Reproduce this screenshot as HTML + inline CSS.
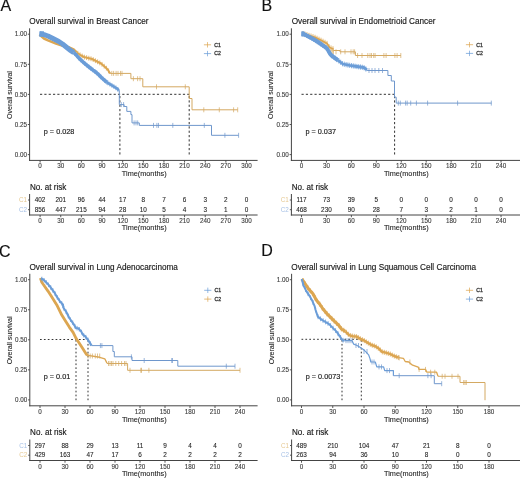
<!DOCTYPE html>
<html><head><meta charset="utf-8"><style>
html,body{margin:0;padding:0;background:#fff;}
svg{display:block;font-family:"Liberation Sans", sans-serif;filter:blur(0.4px);}
.hv{stroke:#1a1a1a;stroke-width:0.15px;}
.lt{stroke:#333;stroke-width:0.1px;}
</style></head><body>
<svg width="520" height="478" viewBox="0 0 520 478">
<rect width="520" height="478" fill="#fff"/>
<text x="0.50" y="10.90" font-size="16" fill="#111" stroke="#111" stroke-width="0.15">A</text>
<text x="29.30" y="23.90" font-size="8.2" fill="#1a1a1a" class="hv">Overall survival in Breast Cancer</text>
<line x1="29.60" y1="28.30" x2="29.60" y2="160.90" stroke="#444444" stroke-width="1" />
<line x1="29.10" y1="160.40" x2="257.60" y2="160.40" stroke="#444444" stroke-width="1" />
<line x1="27.80" y1="154.60" x2="29.60" y2="154.60" stroke="#444444" stroke-width="0.9" />
<text x="27.00" y="156.81" font-size="6.3" text-anchor="end" fill="#3a3a3a" class="lt">0.00</text>
<line x1="27.80" y1="124.50" x2="29.60" y2="124.50" stroke="#444444" stroke-width="0.9" />
<text x="27.00" y="126.70" font-size="6.3" text-anchor="end" fill="#3a3a3a" class="lt">0.25</text>
<line x1="27.80" y1="94.40" x2="29.60" y2="94.40" stroke="#444444" stroke-width="0.9" />
<text x="27.00" y="96.61" font-size="6.3" text-anchor="end" fill="#3a3a3a" class="lt">0.50</text>
<line x1="27.80" y1="64.30" x2="29.60" y2="64.30" stroke="#444444" stroke-width="0.9" />
<text x="27.00" y="66.50" font-size="6.3" text-anchor="end" fill="#3a3a3a" class="lt">0.75</text>
<line x1="27.80" y1="34.20" x2="29.60" y2="34.20" stroke="#444444" stroke-width="0.9" />
<text x="27.00" y="36.41" font-size="6.3" text-anchor="end" fill="#3a3a3a" class="lt">1.00</text>
<line x1="40.10" y1="160.40" x2="40.10" y2="162.60" stroke="#444444" stroke-width="0.9" />
<text x="40.10" y="168.41" font-size="6.3" text-anchor="middle" fill="#3a3a3a" class="lt">0</text>
<line x1="60.74" y1="160.40" x2="60.74" y2="162.60" stroke="#444444" stroke-width="0.9" />
<text x="60.74" y="168.41" font-size="6.3" text-anchor="middle" fill="#3a3a3a" class="lt">30</text>
<line x1="81.38" y1="160.40" x2="81.38" y2="162.60" stroke="#444444" stroke-width="0.9" />
<text x="81.38" y="168.41" font-size="6.3" text-anchor="middle" fill="#3a3a3a" class="lt">60</text>
<line x1="102.02" y1="160.40" x2="102.02" y2="162.60" stroke="#444444" stroke-width="0.9" />
<text x="102.02" y="168.41" font-size="6.3" text-anchor="middle" fill="#3a3a3a" class="lt">90</text>
<line x1="122.66" y1="160.40" x2="122.66" y2="162.60" stroke="#444444" stroke-width="0.9" />
<text x="122.66" y="168.41" font-size="6.3" text-anchor="middle" fill="#3a3a3a" class="lt">120</text>
<line x1="143.30" y1="160.40" x2="143.30" y2="162.60" stroke="#444444" stroke-width="0.9" />
<text x="143.30" y="168.41" font-size="6.3" text-anchor="middle" fill="#3a3a3a" class="lt">150</text>
<line x1="163.94" y1="160.40" x2="163.94" y2="162.60" stroke="#444444" stroke-width="0.9" />
<text x="163.94" y="168.41" font-size="6.3" text-anchor="middle" fill="#3a3a3a" class="lt">180</text>
<line x1="184.58" y1="160.40" x2="184.58" y2="162.60" stroke="#444444" stroke-width="0.9" />
<text x="184.58" y="168.41" font-size="6.3" text-anchor="middle" fill="#3a3a3a" class="lt">210</text>
<line x1="205.22" y1="160.40" x2="205.22" y2="162.60" stroke="#444444" stroke-width="0.9" />
<text x="205.22" y="168.41" font-size="6.3" text-anchor="middle" fill="#3a3a3a" class="lt">240</text>
<line x1="225.86" y1="160.40" x2="225.86" y2="162.60" stroke="#444444" stroke-width="0.9" />
<text x="225.86" y="168.41" font-size="6.3" text-anchor="middle" fill="#3a3a3a" class="lt">270</text>
<line x1="246.50" y1="160.40" x2="246.50" y2="162.60" stroke="#444444" stroke-width="0.9" />
<text x="246.50" y="168.41" font-size="6.3" text-anchor="middle" fill="#3a3a3a" class="lt">300</text>
<text x="144.20" y="176.36" font-size="7.3" text-anchor="middle" fill="#1a1a1a" class="lt">Time(months)</text>
<text x="0" y="0" font-size="7" text-anchor="middle" fill="#1a1a1a" class="lt" transform="translate(11.55,95.00) rotate(-90)">Overall survival</text>
<line x1="203.90" y1="44.80" x2="211.10" y2="44.80" stroke="#DCA651" stroke-width="0.75" />
<line x1="207.50" y1="42.10" x2="207.50" y2="47.50" stroke="#DCA651" stroke-width="0.7" />
<text x="214.30" y="46.62" font-size="5.2" text-anchor="start" fill="#444" stroke="#444" stroke-width="0.35">C1</text>
<line x1="203.90" y1="53.60" x2="211.10" y2="53.60" stroke="#6B9DD8" stroke-width="0.75" />
<line x1="207.50" y1="50.90" x2="207.50" y2="56.30" stroke="#6B9DD8" stroke-width="0.7" />
<text x="214.30" y="55.42" font-size="5.2" text-anchor="start" fill="#444" stroke="#444" stroke-width="0.35">C2</text>
<text x="0" y="0" font-size="7.3" fill="#1a1a1a" class="hv" transform="translate(43.80,133.96) scale(1,1.1)">p = 0.028</text>
<line x1="40.00" y1="94.30" x2="189.20" y2="94.30" stroke="#333" stroke-width="1" stroke-dasharray="2.2,2.13"/>
<line x1="119.90" y1="154.50" x2="119.90" y2="94.30" stroke="#333" stroke-width="1" stroke-dasharray="2.2,2.13"/>
<line x1="189.20" y1="154.50" x2="189.20" y2="94.30" stroke="#333" stroke-width="1" stroke-dasharray="2.2,2.13"/>
<polyline points="39.50,34.50 44.00,38.50 48.00,40.40 56.00,43.60 62.00,45.50 68.50,47.30 74.00,49.80 76.70,52.50" fill="none" stroke="#DCA651" stroke-width="2.6" stroke-linecap="butt" stroke-linejoin="round"/>
<polyline points="76.70,52.50 80.00,54.80 84.00,57.00 88.00,58.00 92.00,59.00 97.00,61.50 101.00,63.50 104.20,66.20 107.70,69.40 110.10,73.40" fill="none" stroke="#DCA651" stroke-width="2.0" stroke-linecap="butt" stroke-linejoin="round"/>
<line x1="77.80" y1="50.87" x2="77.80" y2="55.67" stroke="#DCA651" stroke-width="0.8" />
<line x1="80.00" y1="52.40" x2="80.00" y2="57.20" stroke="#DCA651" stroke-width="0.8" />
<line x1="82.20" y1="53.61" x2="82.20" y2="58.41" stroke="#DCA651" stroke-width="0.8" />
<line x1="84.40" y1="54.70" x2="84.40" y2="59.50" stroke="#DCA651" stroke-width="0.8" />
<line x1="86.60" y1="55.25" x2="86.60" y2="60.05" stroke="#DCA651" stroke-width="0.8" />
<line x1="88.80" y1="55.80" x2="88.80" y2="60.60" stroke="#DCA651" stroke-width="0.8" />
<line x1="91.00" y1="56.35" x2="91.00" y2="61.15" stroke="#DCA651" stroke-width="0.8" />
<line x1="93.20" y1="57.20" x2="93.20" y2="62.00" stroke="#DCA651" stroke-width="0.8" />
<line x1="95.40" y1="58.30" x2="95.40" y2="63.10" stroke="#DCA651" stroke-width="0.8" />
<line x1="97.60" y1="59.40" x2="97.60" y2="64.20" stroke="#DCA651" stroke-width="0.8" />
<line x1="99.80" y1="60.50" x2="99.80" y2="65.30" stroke="#DCA651" stroke-width="0.8" />
<line x1="102.00" y1="61.94" x2="102.00" y2="66.74" stroke="#DCA651" stroke-width="0.8" />
<line x1="104.20" y1="63.80" x2="104.20" y2="68.60" stroke="#DCA651" stroke-width="0.8" />
<line x1="106.40" y1="65.81" x2="106.40" y2="70.61" stroke="#DCA651" stroke-width="0.8" />
<line x1="108.60" y1="68.50" x2="108.60" y2="73.30" stroke="#DCA651" stroke-width="0.8" />
<polyline points="110.10,73.40 130.90,73.40 130.90,78.70 142.80,78.70 142.80,86.80 189.20,86.80 189.20,98.50 192.00,98.50 192.00,109.80 237.70,109.80 237.70,109.80" fill="none" stroke="#D4A962" stroke-width="1" />
<line x1="111.80" y1="70.90" x2="111.80" y2="75.90" stroke="#D4A962" stroke-width="0.7" />
<line x1="113.60" y1="70.90" x2="113.60" y2="75.90" stroke="#D4A962" stroke-width="0.7" />
<line x1="116.10" y1="70.90" x2="116.10" y2="75.90" stroke="#D4A962" stroke-width="0.7" />
<line x1="118.00" y1="70.90" x2="118.00" y2="75.90" stroke="#D4A962" stroke-width="0.7" />
<line x1="120.50" y1="70.90" x2="120.50" y2="75.90" stroke="#D4A962" stroke-width="0.7" />
<line x1="122.00" y1="70.90" x2="122.00" y2="75.90" stroke="#D4A962" stroke-width="0.7" />
<line x1="133.40" y1="76.20" x2="133.40" y2="81.20" stroke="#D4A962" stroke-width="0.7" />
<line x1="137.60" y1="76.20" x2="137.60" y2="81.20" stroke="#D4A962" stroke-width="0.7" />
<line x1="140.00" y1="76.20" x2="140.00" y2="81.20" stroke="#D4A962" stroke-width="0.7" />
<line x1="156.50" y1="84.30" x2="156.50" y2="89.30" stroke="#D4A962" stroke-width="0.7" />
<line x1="185.30" y1="84.30" x2="185.30" y2="89.30" stroke="#D4A962" stroke-width="0.7" />
<line x1="203.80" y1="107.30" x2="203.80" y2="112.30" stroke="#D4A962" stroke-width="0.7" />
<line x1="219.30" y1="107.30" x2="219.30" y2="112.30" stroke="#D4A962" stroke-width="0.7" />
<line x1="233.60" y1="107.30" x2="233.60" y2="112.30" stroke="#D4A962" stroke-width="0.7" />
<line x1="237.70" y1="107.30" x2="237.70" y2="112.30" stroke="#D4A962" stroke-width="0.7" />
<polyline points="39.60,33.80 44.00,34.60 48.00,36.00 53.00,38.50 58.80,41.50 62.50,44.00 66.80,47.50 70.00,50.20 73.80,52.60" fill="none" stroke="#6B9DD8" stroke-width="5.0" stroke-linecap="butt" stroke-linejoin="round"/>
<polyline points="73.80,52.60 76.70,55.60 79.40,58.60 82.20,61.20 84.90,63.60 87.60,65.80 90.30,68.00 93.00,70.10 96.00,72.30 98.50,74.50 101.40,77.50 106.90,82.30" fill="none" stroke="#6B9DD8" stroke-width="3.6" stroke-linecap="butt" stroke-linejoin="round"/>
<line x1="74.80" y1="51.23" x2="74.80" y2="56.03" stroke="#6B9DD8" stroke-width="0.8" />
<line x1="76.80" y1="53.31" x2="76.80" y2="58.11" stroke="#6B9DD8" stroke-width="0.8" />
<line x1="78.80" y1="55.53" x2="78.80" y2="60.33" stroke="#6B9DD8" stroke-width="0.8" />
<line x1="80.80" y1="57.50" x2="80.80" y2="62.30" stroke="#6B9DD8" stroke-width="0.8" />
<line x1="82.80" y1="59.33" x2="82.80" y2="64.13" stroke="#6B9DD8" stroke-width="0.8" />
<line x1="84.80" y1="61.11" x2="84.80" y2="65.91" stroke="#6B9DD8" stroke-width="0.8" />
<line x1="86.80" y1="62.75" x2="86.80" y2="67.55" stroke="#6B9DD8" stroke-width="0.8" />
<line x1="88.80" y1="64.38" x2="88.80" y2="69.18" stroke="#6B9DD8" stroke-width="0.8" />
<line x1="90.80" y1="65.99" x2="90.80" y2="70.79" stroke="#6B9DD8" stroke-width="0.8" />
<line x1="92.80" y1="67.54" x2="92.80" y2="72.34" stroke="#6B9DD8" stroke-width="0.8" />
<line x1="94.80" y1="69.02" x2="94.80" y2="73.82" stroke="#6B9DD8" stroke-width="0.8" />
<line x1="96.80" y1="70.60" x2="96.80" y2="75.40" stroke="#6B9DD8" stroke-width="0.8" />
<line x1="98.80" y1="72.41" x2="98.80" y2="77.21" stroke="#6B9DD8" stroke-width="0.8" />
<line x1="100.80" y1="74.48" x2="100.80" y2="79.28" stroke="#6B9DD8" stroke-width="0.8" />
<line x1="102.80" y1="76.32" x2="102.80" y2="81.12" stroke="#6B9DD8" stroke-width="0.8" />
<line x1="104.80" y1="78.07" x2="104.80" y2="82.87" stroke="#6B9DD8" stroke-width="0.8" />
<line x1="106.80" y1="79.81" x2="106.80" y2="84.61" stroke="#6B9DD8" stroke-width="0.8" />
<polyline points="106.90,82.30 112.30,85.60 116.70,88.30 118.90,90.30" fill="none" stroke="#6B9DD8" stroke-width="2.6" stroke-linecap="butt" stroke-linejoin="round"/>
<line x1="107.90" y1="80.51" x2="107.90" y2="85.31" stroke="#6B9DD8" stroke-width="0.8" />
<line x1="109.90" y1="81.73" x2="109.90" y2="86.53" stroke="#6B9DD8" stroke-width="0.8" />
<line x1="111.90" y1="82.96" x2="111.90" y2="87.76" stroke="#6B9DD8" stroke-width="0.8" />
<line x1="113.90" y1="84.18" x2="113.90" y2="88.98" stroke="#6B9DD8" stroke-width="0.8" />
<line x1="115.90" y1="85.41" x2="115.90" y2="90.21" stroke="#6B9DD8" stroke-width="0.8" />
<line x1="117.90" y1="86.99" x2="117.90" y2="91.79" stroke="#6B9DD8" stroke-width="0.8" />
<rect x="39.4" y="31.3" width="4.6" height="5.4" fill="#6B9DD8"/>
<polyline points="118.90,90.30 119.30,90.30 119.30,104.60 124.10,104.60 124.10,106.50 126.80,106.50 126.80,111.40 130.90,111.40 130.90,114.60 132.00,114.60 132.00,122.90 139.30,122.90 139.30,125.40 211.50,125.40 211.50,135.30 238.60,135.30 238.60,135.30" fill="none" stroke="#6F97CC" stroke-width="1" />
<line x1="121.30" y1="102.10" x2="121.30" y2="107.10" stroke="#6F97CC" stroke-width="0.7" />
<line x1="123.60" y1="102.10" x2="123.60" y2="107.10" stroke="#6F97CC" stroke-width="0.7" />
<line x1="134.10" y1="120.40" x2="134.10" y2="125.40" stroke="#6F97CC" stroke-width="0.7" />
<line x1="136.00" y1="120.40" x2="136.00" y2="125.40" stroke="#6F97CC" stroke-width="0.7" />
<line x1="137.70" y1="120.40" x2="137.70" y2="125.40" stroke="#6F97CC" stroke-width="0.7" />
<line x1="153.50" y1="122.90" x2="153.50" y2="127.90" stroke="#6F97CC" stroke-width="0.7" />
<line x1="156.90" y1="122.90" x2="156.90" y2="127.90" stroke="#6F97CC" stroke-width="0.7" />
<line x1="158.50" y1="122.90" x2="158.50" y2="127.90" stroke="#6F97CC" stroke-width="0.7" />
<line x1="172.80" y1="122.90" x2="172.80" y2="127.90" stroke="#6F97CC" stroke-width="0.7" />
<line x1="204.30" y1="122.90" x2="204.30" y2="127.90" stroke="#6F97CC" stroke-width="0.7" />
<line x1="224.90" y1="132.80" x2="224.90" y2="137.80" stroke="#6F97CC" stroke-width="0.7" />
<line x1="238.60" y1="132.80" x2="238.60" y2="137.80" stroke="#6F97CC" stroke-width="0.7" />
<text x="0" y="0" font-size="8.1" fill="#1a1a1a" class="hv" transform="translate(29.90,189.53) scale(1,1.15)">No. at risk</text>
<line x1="29.60" y1="194.00" x2="29.60" y2="215.50" stroke="#444444" stroke-width="1" />
<line x1="29.10" y1="215.00" x2="257.60" y2="215.00" stroke="#444444" stroke-width="1" />
<line x1="28.00" y1="200.00" x2="29.60" y2="200.00" stroke="#444444" stroke-width="0.9" />
<text x="27.00" y="202.21" font-size="6.3" text-anchor="end" fill="#E6C993" >C1</text>
<text x="40.10" y="202.24" font-size="6.4" text-anchor="middle" fill="#1a1a1a" class="lt">402</text>
<text x="60.74" y="202.24" font-size="6.4" text-anchor="middle" fill="#1a1a1a" class="lt">201</text>
<text x="81.38" y="202.24" font-size="6.4" text-anchor="middle" fill="#1a1a1a" class="lt">96</text>
<text x="102.02" y="202.24" font-size="6.4" text-anchor="middle" fill="#1a1a1a" class="lt">44</text>
<text x="122.66" y="202.24" font-size="6.4" text-anchor="middle" fill="#1a1a1a" class="lt">17</text>
<text x="143.30" y="202.24" font-size="6.4" text-anchor="middle" fill="#1a1a1a" class="lt">8</text>
<text x="163.94" y="202.24" font-size="6.4" text-anchor="middle" fill="#1a1a1a" class="lt">7</text>
<text x="184.58" y="202.24" font-size="6.4" text-anchor="middle" fill="#1a1a1a" class="lt">6</text>
<text x="205.22" y="202.24" font-size="6.4" text-anchor="middle" fill="#1a1a1a" class="lt">3</text>
<text x="225.86" y="202.24" font-size="6.4" text-anchor="middle" fill="#1a1a1a" class="lt">2</text>
<text x="246.50" y="202.24" font-size="6.4" text-anchor="middle" fill="#1a1a1a" class="lt">0</text>
<line x1="28.00" y1="209.70" x2="29.60" y2="209.70" stroke="#444444" stroke-width="0.9" />
<text x="27.00" y="211.91" font-size="6.3" text-anchor="end" fill="#A8C2E6" >C2</text>
<text x="40.10" y="211.94" font-size="6.4" text-anchor="middle" fill="#1a1a1a" class="lt">856</text>
<text x="60.74" y="211.94" font-size="6.4" text-anchor="middle" fill="#1a1a1a" class="lt">447</text>
<text x="81.38" y="211.94" font-size="6.4" text-anchor="middle" fill="#1a1a1a" class="lt">215</text>
<text x="102.02" y="211.94" font-size="6.4" text-anchor="middle" fill="#1a1a1a" class="lt">94</text>
<text x="122.66" y="211.94" font-size="6.4" text-anchor="middle" fill="#1a1a1a" class="lt">28</text>
<text x="143.30" y="211.94" font-size="6.4" text-anchor="middle" fill="#1a1a1a" class="lt">10</text>
<text x="163.94" y="211.94" font-size="6.4" text-anchor="middle" fill="#1a1a1a" class="lt">5</text>
<text x="184.58" y="211.94" font-size="6.4" text-anchor="middle" fill="#1a1a1a" class="lt">4</text>
<text x="205.22" y="211.94" font-size="6.4" text-anchor="middle" fill="#1a1a1a" class="lt">3</text>
<text x="225.86" y="211.94" font-size="6.4" text-anchor="middle" fill="#1a1a1a" class="lt">1</text>
<text x="246.50" y="211.94" font-size="6.4" text-anchor="middle" fill="#1a1a1a" class="lt">0</text>
<line x1="40.10" y1="215.00" x2="40.10" y2="217.20" stroke="#444444" stroke-width="0.9" />
<text x="40.10" y="223.01" font-size="6.3" text-anchor="middle" fill="#3a3a3a" class="lt">0</text>
<line x1="60.74" y1="215.00" x2="60.74" y2="217.20" stroke="#444444" stroke-width="0.9" />
<text x="60.74" y="223.01" font-size="6.3" text-anchor="middle" fill="#3a3a3a" class="lt">30</text>
<line x1="81.38" y1="215.00" x2="81.38" y2="217.20" stroke="#444444" stroke-width="0.9" />
<text x="81.38" y="223.01" font-size="6.3" text-anchor="middle" fill="#3a3a3a" class="lt">60</text>
<line x1="102.02" y1="215.00" x2="102.02" y2="217.20" stroke="#444444" stroke-width="0.9" />
<text x="102.02" y="223.01" font-size="6.3" text-anchor="middle" fill="#3a3a3a" class="lt">90</text>
<line x1="122.66" y1="215.00" x2="122.66" y2="217.20" stroke="#444444" stroke-width="0.9" />
<text x="122.66" y="223.01" font-size="6.3" text-anchor="middle" fill="#3a3a3a" class="lt">120</text>
<line x1="143.30" y1="215.00" x2="143.30" y2="217.20" stroke="#444444" stroke-width="0.9" />
<text x="143.30" y="223.01" font-size="6.3" text-anchor="middle" fill="#3a3a3a" class="lt">150</text>
<line x1="163.94" y1="215.00" x2="163.94" y2="217.20" stroke="#444444" stroke-width="0.9" />
<text x="163.94" y="223.01" font-size="6.3" text-anchor="middle" fill="#3a3a3a" class="lt">180</text>
<line x1="184.58" y1="215.00" x2="184.58" y2="217.20" stroke="#444444" stroke-width="0.9" />
<text x="184.58" y="223.01" font-size="6.3" text-anchor="middle" fill="#3a3a3a" class="lt">210</text>
<line x1="205.22" y1="215.00" x2="205.22" y2="217.20" stroke="#444444" stroke-width="0.9" />
<text x="205.22" y="223.01" font-size="6.3" text-anchor="middle" fill="#3a3a3a" class="lt">240</text>
<line x1="225.86" y1="215.00" x2="225.86" y2="217.20" stroke="#444444" stroke-width="0.9" />
<text x="225.86" y="223.01" font-size="6.3" text-anchor="middle" fill="#3a3a3a" class="lt">270</text>
<line x1="246.50" y1="215.00" x2="246.50" y2="217.20" stroke="#444444" stroke-width="0.9" />
<text x="246.50" y="223.01" font-size="6.3" text-anchor="middle" fill="#3a3a3a" class="lt">300</text>
<text x="144.20" y="230.16" font-size="7.3" text-anchor="middle" fill="#1a1a1a" class="lt">Time(months)</text>
<text x="261.60" y="10.90" font-size="16" fill="#111" stroke="#111" stroke-width="0.15">B</text>
<text x="291.70" y="23.90" font-size="8.2" fill="#1a1a1a" class="hv">Overall survival in Endometrioid Cancer</text>
<line x1="291.40" y1="28.30" x2="291.40" y2="160.90" stroke="#444444" stroke-width="1" />
<line x1="290.90" y1="160.40" x2="520.00" y2="160.40" stroke="#444444" stroke-width="1" />
<line x1="289.60" y1="154.60" x2="291.40" y2="154.60" stroke="#444444" stroke-width="0.9" />
<text x="288.80" y="156.81" font-size="6.3" text-anchor="end" fill="#3a3a3a" class="lt">0.00</text>
<line x1="289.60" y1="124.50" x2="291.40" y2="124.50" stroke="#444444" stroke-width="0.9" />
<text x="288.80" y="126.70" font-size="6.3" text-anchor="end" fill="#3a3a3a" class="lt">0.25</text>
<line x1="289.60" y1="94.40" x2="291.40" y2="94.40" stroke="#444444" stroke-width="0.9" />
<text x="288.80" y="96.61" font-size="6.3" text-anchor="end" fill="#3a3a3a" class="lt">0.50</text>
<line x1="289.60" y1="64.30" x2="291.40" y2="64.30" stroke="#444444" stroke-width="0.9" />
<text x="288.80" y="66.50" font-size="6.3" text-anchor="end" fill="#3a3a3a" class="lt">0.75</text>
<line x1="289.60" y1="34.20" x2="291.40" y2="34.20" stroke="#444444" stroke-width="0.9" />
<text x="288.80" y="36.41" font-size="6.3" text-anchor="end" fill="#3a3a3a" class="lt">1.00</text>
<line x1="301.50" y1="160.40" x2="301.50" y2="162.60" stroke="#444444" stroke-width="0.9" />
<text x="301.50" y="168.41" font-size="6.3" text-anchor="middle" fill="#3a3a3a" class="lt">0</text>
<line x1="326.44" y1="160.40" x2="326.44" y2="162.60" stroke="#444444" stroke-width="0.9" />
<text x="326.44" y="168.41" font-size="6.3" text-anchor="middle" fill="#3a3a3a" class="lt">30</text>
<line x1="351.38" y1="160.40" x2="351.38" y2="162.60" stroke="#444444" stroke-width="0.9" />
<text x="351.38" y="168.41" font-size="6.3" text-anchor="middle" fill="#3a3a3a" class="lt">60</text>
<line x1="376.32" y1="160.40" x2="376.32" y2="162.60" stroke="#444444" stroke-width="0.9" />
<text x="376.32" y="168.41" font-size="6.3" text-anchor="middle" fill="#3a3a3a" class="lt">90</text>
<line x1="401.26" y1="160.40" x2="401.26" y2="162.60" stroke="#444444" stroke-width="0.9" />
<text x="401.26" y="168.41" font-size="6.3" text-anchor="middle" fill="#3a3a3a" class="lt">120</text>
<line x1="426.20" y1="160.40" x2="426.20" y2="162.60" stroke="#444444" stroke-width="0.9" />
<text x="426.20" y="168.41" font-size="6.3" text-anchor="middle" fill="#3a3a3a" class="lt">150</text>
<line x1="451.14" y1="160.40" x2="451.14" y2="162.60" stroke="#444444" stroke-width="0.9" />
<text x="451.14" y="168.41" font-size="6.3" text-anchor="middle" fill="#3a3a3a" class="lt">180</text>
<line x1="476.08" y1="160.40" x2="476.08" y2="162.60" stroke="#444444" stroke-width="0.9" />
<text x="476.08" y="168.41" font-size="6.3" text-anchor="middle" fill="#3a3a3a" class="lt">210</text>
<line x1="501.02" y1="160.40" x2="501.02" y2="162.60" stroke="#444444" stroke-width="0.9" />
<text x="501.02" y="168.41" font-size="6.3" text-anchor="middle" fill="#3a3a3a" class="lt">240</text>
<text x="406.30" y="176.36" font-size="7.3" text-anchor="middle" fill="#1a1a1a" class="lt">Time(months)</text>
<text x="0" y="0" font-size="7" text-anchor="middle" fill="#1a1a1a" class="lt" transform="translate(273.35,95.00) rotate(-90)">Overall survival</text>
<line x1="465.90" y1="44.70" x2="473.10" y2="44.70" stroke="#DCA651" stroke-width="0.75" />
<line x1="469.50" y1="42.00" x2="469.50" y2="47.40" stroke="#DCA651" stroke-width="0.7" />
<text x="476.30" y="46.52" font-size="5.2" text-anchor="start" fill="#444" stroke="#444" stroke-width="0.35">C1</text>
<line x1="465.90" y1="53.40" x2="473.10" y2="53.40" stroke="#6B9DD8" stroke-width="0.75" />
<line x1="469.50" y1="50.70" x2="469.50" y2="56.10" stroke="#6B9DD8" stroke-width="0.7" />
<text x="476.30" y="55.22" font-size="5.2" text-anchor="start" fill="#444" stroke="#444" stroke-width="0.35">C2</text>
<text x="0" y="0" font-size="7.3" fill="#1a1a1a" class="hv" transform="translate(305.40,133.96) scale(1,1.1)">p = 0.037</text>
<line x1="301.50" y1="94.30" x2="394.60" y2="94.30" stroke="#333" stroke-width="1" stroke-dasharray="2.2,2.13"/>
<line x1="394.60" y1="154.50" x2="394.60" y2="94.30" stroke="#333" stroke-width="1" stroke-dasharray="2.2,2.13"/>
<polyline points="302.00,33.40 307.00,34.80 315.00,37.40 321.00,40.30 327.20,43.60 329.50,47.50 333.50,49.00" fill="none" stroke="#DCA651" stroke-width="1.8" stroke-linecap="butt" stroke-linejoin="round"/>
<line x1="303.00" y1="31.08" x2="303.00" y2="36.28" stroke="#DCA651" stroke-width="0.8" />
<line x1="305.00" y1="31.64" x2="305.00" y2="36.84" stroke="#DCA651" stroke-width="0.8" />
<line x1="307.00" y1="32.20" x2="307.00" y2="37.40" stroke="#DCA651" stroke-width="0.8" />
<line x1="309.00" y1="32.85" x2="309.00" y2="38.05" stroke="#DCA651" stroke-width="0.8" />
<line x1="311.00" y1="33.50" x2="311.00" y2="38.70" stroke="#DCA651" stroke-width="0.8" />
<line x1="313.00" y1="34.15" x2="313.00" y2="39.35" stroke="#DCA651" stroke-width="0.8" />
<line x1="315.00" y1="34.80" x2="315.00" y2="40.00" stroke="#DCA651" stroke-width="0.8" />
<line x1="317.00" y1="35.77" x2="317.00" y2="40.97" stroke="#DCA651" stroke-width="0.8" />
<line x1="319.00" y1="36.73" x2="319.00" y2="41.93" stroke="#DCA651" stroke-width="0.8" />
<line x1="321.00" y1="37.70" x2="321.00" y2="42.90" stroke="#DCA651" stroke-width="0.8" />
<line x1="323.00" y1="38.76" x2="323.00" y2="43.96" stroke="#DCA651" stroke-width="0.8" />
<line x1="325.00" y1="39.83" x2="325.00" y2="45.03" stroke="#DCA651" stroke-width="0.8" />
<line x1="327.00" y1="40.89" x2="327.00" y2="46.09" stroke="#DCA651" stroke-width="0.8" />
<line x1="329.00" y1="44.05" x2="329.00" y2="49.25" stroke="#DCA651" stroke-width="0.8" />
<line x1="331.00" y1="45.46" x2="331.00" y2="50.66" stroke="#DCA651" stroke-width="0.8" />
<line x1="333.00" y1="46.21" x2="333.00" y2="51.41" stroke="#DCA651" stroke-width="0.8" />
<polyline points="333.50,50.50 340.00,50.50 340.00,51.80 355.40,51.80 355.40,55.50 400.80,55.50 400.80,55.50" fill="none" stroke="#D4A962" stroke-width="1" />
<line x1="331.00" y1="49.30" x2="331.00" y2="54.30" stroke="#D4A962" stroke-width="0.7" />
<line x1="332.20" y1="49.30" x2="332.20" y2="54.30" stroke="#D4A962" stroke-width="0.7" />
<line x1="333.40" y1="49.30" x2="333.40" y2="54.30" stroke="#D4A962" stroke-width="0.7" />
<line x1="336.00" y1="49.30" x2="336.00" y2="54.30" stroke="#D4A962" stroke-width="0.7" />
<line x1="340.70" y1="49.30" x2="340.70" y2="54.30" stroke="#D4A962" stroke-width="0.7" />
<line x1="345.00" y1="49.30" x2="345.00" y2="54.30" stroke="#D4A962" stroke-width="0.7" />
<line x1="351.00" y1="49.30" x2="351.00" y2="54.30" stroke="#D4A962" stroke-width="0.7" />
<line x1="353.20" y1="49.30" x2="353.20" y2="54.30" stroke="#D4A962" stroke-width="0.7" />
<line x1="354.60" y1="49.30" x2="354.60" y2="54.30" stroke="#D4A962" stroke-width="0.7" />
<line x1="357.60" y1="53.00" x2="357.60" y2="58.00" stroke="#D4A962" stroke-width="0.7" />
<line x1="362.00" y1="53.00" x2="362.00" y2="58.00" stroke="#D4A962" stroke-width="0.7" />
<line x1="367.80" y1="53.00" x2="367.80" y2="58.00" stroke="#D4A962" stroke-width="0.7" />
<line x1="370.00" y1="53.00" x2="370.00" y2="58.00" stroke="#D4A962" stroke-width="0.7" />
<line x1="371.50" y1="53.00" x2="371.50" y2="58.00" stroke="#D4A962" stroke-width="0.7" />
<line x1="373.70" y1="53.00" x2="373.70" y2="58.00" stroke="#D4A962" stroke-width="0.7" />
<line x1="375.10" y1="53.00" x2="375.10" y2="58.00" stroke="#D4A962" stroke-width="0.7" />
<line x1="383.90" y1="53.00" x2="383.90" y2="58.00" stroke="#D4A962" stroke-width="0.7" />
<line x1="386.10" y1="53.00" x2="386.10" y2="58.00" stroke="#D4A962" stroke-width="0.7" />
<line x1="394.90" y1="53.00" x2="394.90" y2="58.00" stroke="#D4A962" stroke-width="0.7" />
<line x1="397.10" y1="53.00" x2="397.10" y2="58.00" stroke="#D4A962" stroke-width="0.7" />
<line x1="400.80" y1="53.00" x2="400.80" y2="58.00" stroke="#D4A962" stroke-width="0.7" />
<polyline points="302.00,33.60 304.10,34.20 308.00,36.20 312.20,38.50 316.00,40.80 320.20,43.50 323.50,45.80 326.70,48.20 328.50,51.00 329.90,53.60 332.00,56.00 334.80,57.90 338.00,60.30" fill="none" stroke="#6B9DD8" stroke-width="4.0" stroke-linecap="butt" stroke-linejoin="round"/>
<line x1="302.90" y1="31.26" x2="302.90" y2="36.46" stroke="#6B9DD8" stroke-width="0.8" />
<line x1="304.70" y1="31.91" x2="304.70" y2="37.11" stroke="#6B9DD8" stroke-width="0.8" />
<line x1="306.50" y1="32.83" x2="306.50" y2="38.03" stroke="#6B9DD8" stroke-width="0.8" />
<line x1="308.30" y1="33.76" x2="308.30" y2="38.96" stroke="#6B9DD8" stroke-width="0.8" />
<line x1="310.10" y1="34.75" x2="310.10" y2="39.95" stroke="#6B9DD8" stroke-width="0.8" />
<line x1="311.90" y1="35.74" x2="311.90" y2="40.94" stroke="#6B9DD8" stroke-width="0.8" />
<line x1="313.70" y1="36.81" x2="313.70" y2="42.01" stroke="#6B9DD8" stroke-width="0.8" />
<line x1="315.50" y1="37.90" x2="315.50" y2="43.10" stroke="#6B9DD8" stroke-width="0.8" />
<line x1="317.30" y1="39.04" x2="317.30" y2="44.24" stroke="#6B9DD8" stroke-width="0.8" />
<line x1="319.10" y1="40.19" x2="319.10" y2="45.39" stroke="#6B9DD8" stroke-width="0.8" />
<line x1="320.90" y1="41.39" x2="320.90" y2="46.59" stroke="#6B9DD8" stroke-width="0.8" />
<line x1="322.70" y1="42.64" x2="322.70" y2="47.84" stroke="#6B9DD8" stroke-width="0.8" />
<line x1="324.50" y1="43.95" x2="324.50" y2="49.15" stroke="#6B9DD8" stroke-width="0.8" />
<line x1="326.30" y1="45.30" x2="326.30" y2="50.50" stroke="#6B9DD8" stroke-width="0.8" />
<line x1="328.10" y1="47.78" x2="328.10" y2="52.98" stroke="#6B9DD8" stroke-width="0.8" />
<line x1="329.90" y1="51.00" x2="329.90" y2="56.20" stroke="#6B9DD8" stroke-width="0.8" />
<line x1="331.70" y1="53.06" x2="331.70" y2="58.26" stroke="#6B9DD8" stroke-width="0.8" />
<line x1="333.50" y1="54.42" x2="333.50" y2="59.62" stroke="#6B9DD8" stroke-width="0.8" />
<line x1="335.30" y1="55.68" x2="335.30" y2="60.88" stroke="#6B9DD8" stroke-width="0.8" />
<line x1="337.10" y1="57.03" x2="337.10" y2="62.23" stroke="#6B9DD8" stroke-width="0.8" />
<polyline points="338.00,60.30 342.90,64.00 349.90,65.40 356.80,66.50 363.70,67.50 367.10,69.80" fill="none" stroke="#6B9DD8" stroke-width="2.8" stroke-linecap="butt" stroke-linejoin="round"/>
<line x1="338.90" y1="58.38" x2="338.90" y2="63.58" stroke="#6B9DD8" stroke-width="0.8" />
<line x1="340.70" y1="59.74" x2="340.70" y2="64.94" stroke="#6B9DD8" stroke-width="0.8" />
<line x1="342.50" y1="61.10" x2="342.50" y2="66.30" stroke="#6B9DD8" stroke-width="0.8" />
<line x1="344.30" y1="61.68" x2="344.30" y2="66.88" stroke="#6B9DD8" stroke-width="0.8" />
<line x1="346.10" y1="62.04" x2="346.10" y2="67.24" stroke="#6B9DD8" stroke-width="0.8" />
<line x1="347.90" y1="62.40" x2="347.90" y2="67.60" stroke="#6B9DD8" stroke-width="0.8" />
<line x1="349.70" y1="62.76" x2="349.70" y2="67.96" stroke="#6B9DD8" stroke-width="0.8" />
<line x1="351.50" y1="63.06" x2="351.50" y2="68.26" stroke="#6B9DD8" stroke-width="0.8" />
<line x1="353.30" y1="63.34" x2="353.30" y2="68.54" stroke="#6B9DD8" stroke-width="0.8" />
<line x1="355.10" y1="63.63" x2="355.10" y2="68.83" stroke="#6B9DD8" stroke-width="0.8" />
<line x1="356.90" y1="63.91" x2="356.90" y2="69.11" stroke="#6B9DD8" stroke-width="0.8" />
<line x1="358.70" y1="64.18" x2="358.70" y2="69.38" stroke="#6B9DD8" stroke-width="0.8" />
<line x1="360.50" y1="64.44" x2="360.50" y2="69.64" stroke="#6B9DD8" stroke-width="0.8" />
<line x1="362.30" y1="64.70" x2="362.30" y2="69.90" stroke="#6B9DD8" stroke-width="0.8" />
<line x1="364.10" y1="65.17" x2="364.10" y2="70.37" stroke="#6B9DD8" stroke-width="0.8" />
<line x1="365.90" y1="66.39" x2="365.90" y2="71.59" stroke="#6B9DD8" stroke-width="0.8" />
<rect x="301.2" y="31.4" width="3.2" height="5.0" fill="#6B9DD8"/>
<polyline points="367.10,70.50 387.90,70.50 387.90,75.50 391.30,75.50 391.30,81.00 394.50,81.00 394.50,97.20 396.20,97.20 396.20,103.10 491.50,103.10 491.50,103.10" fill="none" stroke="#6F97CC" stroke-width="1" />
<line x1="369.00" y1="68.00" x2="369.00" y2="73.00" stroke="#6F97CC" stroke-width="0.7" />
<line x1="372.00" y1="68.00" x2="372.00" y2="73.00" stroke="#6F97CC" stroke-width="0.7" />
<line x1="375.00" y1="68.00" x2="375.00" y2="73.00" stroke="#6F97CC" stroke-width="0.7" />
<line x1="378.80" y1="68.00" x2="378.80" y2="73.00" stroke="#6F97CC" stroke-width="0.7" />
<line x1="382.50" y1="68.00" x2="382.50" y2="73.00" stroke="#6F97CC" stroke-width="0.7" />
<line x1="398.30" y1="100.60" x2="398.30" y2="105.60" stroke="#6F97CC" stroke-width="0.7" />
<line x1="400.30" y1="100.60" x2="400.30" y2="105.60" stroke="#6F97CC" stroke-width="0.7" />
<line x1="405.60" y1="100.60" x2="405.60" y2="105.60" stroke="#6F97CC" stroke-width="0.7" />
<line x1="407.20" y1="100.60" x2="407.20" y2="105.60" stroke="#6F97CC" stroke-width="0.7" />
<line x1="410.70" y1="100.60" x2="410.70" y2="105.60" stroke="#6F97CC" stroke-width="0.7" />
<line x1="416.40" y1="100.60" x2="416.40" y2="105.60" stroke="#6F97CC" stroke-width="0.7" />
<line x1="427.60" y1="100.60" x2="427.60" y2="105.60" stroke="#6F97CC" stroke-width="0.7" />
<line x1="457.60" y1="100.60" x2="457.60" y2="105.60" stroke="#6F97CC" stroke-width="0.7" />
<line x1="491.30" y1="100.60" x2="491.30" y2="105.60" stroke="#6F97CC" stroke-width="0.7" />
<text x="0" y="0" font-size="8.1" fill="#1a1a1a" class="hv" transform="translate(291.70,189.53) scale(1,1.15)">No. at risk</text>
<line x1="291.40" y1="194.00" x2="291.40" y2="215.50" stroke="#444444" stroke-width="1" />
<line x1="290.90" y1="215.00" x2="520.00" y2="215.00" stroke="#444444" stroke-width="1" />
<line x1="289.80" y1="200.00" x2="291.40" y2="200.00" stroke="#444444" stroke-width="0.9" />
<text x="288.80" y="202.21" font-size="6.3" text-anchor="end" fill="#E6C993" >C1</text>
<text x="301.50" y="202.24" font-size="6.4" text-anchor="middle" fill="#1a1a1a" class="lt">117</text>
<text x="326.44" y="202.24" font-size="6.4" text-anchor="middle" fill="#1a1a1a" class="lt">73</text>
<text x="351.38" y="202.24" font-size="6.4" text-anchor="middle" fill="#1a1a1a" class="lt">39</text>
<text x="376.32" y="202.24" font-size="6.4" text-anchor="middle" fill="#1a1a1a" class="lt">5</text>
<text x="401.26" y="202.24" font-size="6.4" text-anchor="middle" fill="#1a1a1a" class="lt">0</text>
<text x="426.20" y="202.24" font-size="6.4" text-anchor="middle" fill="#1a1a1a" class="lt">0</text>
<text x="451.14" y="202.24" font-size="6.4" text-anchor="middle" fill="#1a1a1a" class="lt">0</text>
<text x="476.08" y="202.24" font-size="6.4" text-anchor="middle" fill="#1a1a1a" class="lt">0</text>
<text x="501.02" y="202.24" font-size="6.4" text-anchor="middle" fill="#1a1a1a" class="lt">0</text>
<line x1="289.80" y1="209.70" x2="291.40" y2="209.70" stroke="#444444" stroke-width="0.9" />
<text x="288.80" y="211.91" font-size="6.3" text-anchor="end" fill="#A8C2E6" >C2</text>
<text x="301.50" y="211.94" font-size="6.4" text-anchor="middle" fill="#1a1a1a" class="lt">468</text>
<text x="326.44" y="211.94" font-size="6.4" text-anchor="middle" fill="#1a1a1a" class="lt">230</text>
<text x="351.38" y="211.94" font-size="6.4" text-anchor="middle" fill="#1a1a1a" class="lt">90</text>
<text x="376.32" y="211.94" font-size="6.4" text-anchor="middle" fill="#1a1a1a" class="lt">28</text>
<text x="401.26" y="211.94" font-size="6.4" text-anchor="middle" fill="#1a1a1a" class="lt">7</text>
<text x="426.20" y="211.94" font-size="6.4" text-anchor="middle" fill="#1a1a1a" class="lt">3</text>
<text x="451.14" y="211.94" font-size="6.4" text-anchor="middle" fill="#1a1a1a" class="lt">2</text>
<text x="476.08" y="211.94" font-size="6.4" text-anchor="middle" fill="#1a1a1a" class="lt">1</text>
<text x="501.02" y="211.94" font-size="6.4" text-anchor="middle" fill="#1a1a1a" class="lt">0</text>
<line x1="301.50" y1="215.00" x2="301.50" y2="217.20" stroke="#444444" stroke-width="0.9" />
<text x="301.50" y="223.01" font-size="6.3" text-anchor="middle" fill="#3a3a3a" class="lt">0</text>
<line x1="326.44" y1="215.00" x2="326.44" y2="217.20" stroke="#444444" stroke-width="0.9" />
<text x="326.44" y="223.01" font-size="6.3" text-anchor="middle" fill="#3a3a3a" class="lt">30</text>
<line x1="351.38" y1="215.00" x2="351.38" y2="217.20" stroke="#444444" stroke-width="0.9" />
<text x="351.38" y="223.01" font-size="6.3" text-anchor="middle" fill="#3a3a3a" class="lt">60</text>
<line x1="376.32" y1="215.00" x2="376.32" y2="217.20" stroke="#444444" stroke-width="0.9" />
<text x="376.32" y="223.01" font-size="6.3" text-anchor="middle" fill="#3a3a3a" class="lt">90</text>
<line x1="401.26" y1="215.00" x2="401.26" y2="217.20" stroke="#444444" stroke-width="0.9" />
<text x="401.26" y="223.01" font-size="6.3" text-anchor="middle" fill="#3a3a3a" class="lt">120</text>
<line x1="426.20" y1="215.00" x2="426.20" y2="217.20" stroke="#444444" stroke-width="0.9" />
<text x="426.20" y="223.01" font-size="6.3" text-anchor="middle" fill="#3a3a3a" class="lt">150</text>
<line x1="451.14" y1="215.00" x2="451.14" y2="217.20" stroke="#444444" stroke-width="0.9" />
<text x="451.14" y="223.01" font-size="6.3" text-anchor="middle" fill="#3a3a3a" class="lt">180</text>
<line x1="476.08" y1="215.00" x2="476.08" y2="217.20" stroke="#444444" stroke-width="0.9" />
<text x="476.08" y="223.01" font-size="6.3" text-anchor="middle" fill="#3a3a3a" class="lt">210</text>
<line x1="501.02" y1="215.00" x2="501.02" y2="217.20" stroke="#444444" stroke-width="0.9" />
<text x="501.02" y="223.01" font-size="6.3" text-anchor="middle" fill="#3a3a3a" class="lt">240</text>
<text x="406.30" y="230.16" font-size="7.3" text-anchor="middle" fill="#1a1a1a" class="lt">Time(months)</text>
<text x="-1.10" y="256.60" font-size="16" fill="#111" stroke="#111" stroke-width="0.15">C</text>
<text x="29.50" y="270.00" font-size="8.2" fill="#1a1a1a" class="hv">Overall survival in Lung Adenocarcinoma</text>
<line x1="29.80" y1="273.80" x2="29.80" y2="406.30" stroke="#444444" stroke-width="1" />
<line x1="29.30" y1="405.80" x2="257.60" y2="405.80" stroke="#444444" stroke-width="1" />
<line x1="28.00" y1="399.90" x2="29.80" y2="399.90" stroke="#444444" stroke-width="0.9" />
<text x="27.20" y="402.10" font-size="6.3" text-anchor="end" fill="#3a3a3a" class="lt">0.00</text>
<line x1="28.00" y1="369.85" x2="29.80" y2="369.85" stroke="#444444" stroke-width="0.9" />
<text x="27.20" y="372.05" font-size="6.3" text-anchor="end" fill="#3a3a3a" class="lt">0.25</text>
<line x1="28.00" y1="339.80" x2="29.80" y2="339.80" stroke="#444444" stroke-width="0.9" />
<text x="27.20" y="342.00" font-size="6.3" text-anchor="end" fill="#3a3a3a" class="lt">0.50</text>
<line x1="28.00" y1="309.75" x2="29.80" y2="309.75" stroke="#444444" stroke-width="0.9" />
<text x="27.20" y="311.95" font-size="6.3" text-anchor="end" fill="#3a3a3a" class="lt">0.75</text>
<line x1="28.00" y1="279.70" x2="29.80" y2="279.70" stroke="#444444" stroke-width="0.9" />
<text x="27.20" y="281.90" font-size="6.3" text-anchor="end" fill="#3a3a3a" class="lt">1.00</text>
<line x1="40.00" y1="405.80" x2="40.00" y2="408.00" stroke="#444444" stroke-width="0.9" />
<text x="40.00" y="413.81" font-size="6.3" text-anchor="middle" fill="#3a3a3a" class="lt">0</text>
<line x1="65.00" y1="405.80" x2="65.00" y2="408.00" stroke="#444444" stroke-width="0.9" />
<text x="65.00" y="413.81" font-size="6.3" text-anchor="middle" fill="#3a3a3a" class="lt">30</text>
<line x1="90.00" y1="405.80" x2="90.00" y2="408.00" stroke="#444444" stroke-width="0.9" />
<text x="90.00" y="413.81" font-size="6.3" text-anchor="middle" fill="#3a3a3a" class="lt">60</text>
<line x1="115.00" y1="405.80" x2="115.00" y2="408.00" stroke="#444444" stroke-width="0.9" />
<text x="115.00" y="413.81" font-size="6.3" text-anchor="middle" fill="#3a3a3a" class="lt">90</text>
<line x1="140.00" y1="405.80" x2="140.00" y2="408.00" stroke="#444444" stroke-width="0.9" />
<text x="140.00" y="413.81" font-size="6.3" text-anchor="middle" fill="#3a3a3a" class="lt">120</text>
<line x1="165.00" y1="405.80" x2="165.00" y2="408.00" stroke="#444444" stroke-width="0.9" />
<text x="165.00" y="413.81" font-size="6.3" text-anchor="middle" fill="#3a3a3a" class="lt">150</text>
<line x1="190.00" y1="405.80" x2="190.00" y2="408.00" stroke="#444444" stroke-width="0.9" />
<text x="190.00" y="413.81" font-size="6.3" text-anchor="middle" fill="#3a3a3a" class="lt">180</text>
<line x1="215.00" y1="405.80" x2="215.00" y2="408.00" stroke="#444444" stroke-width="0.9" />
<text x="215.00" y="413.81" font-size="6.3" text-anchor="middle" fill="#3a3a3a" class="lt">210</text>
<line x1="240.00" y1="405.80" x2="240.00" y2="408.00" stroke="#444444" stroke-width="0.9" />
<text x="240.00" y="413.81" font-size="6.3" text-anchor="middle" fill="#3a3a3a" class="lt">240</text>
<text x="144.30" y="421.75" font-size="7.3" text-anchor="middle" fill="#1a1a1a" class="lt">Time(months)</text>
<text x="0" y="0" font-size="7" text-anchor="middle" fill="#1a1a1a" class="lt" transform="translate(11.75,340.40) rotate(-90)">Overall survival</text>
<line x1="204.20" y1="290.30" x2="211.40" y2="290.30" stroke="#6B9DD8" stroke-width="0.75" />
<line x1="207.80" y1="287.60" x2="207.80" y2="293.00" stroke="#6B9DD8" stroke-width="0.7" />
<text x="214.60" y="292.12" font-size="5.2" text-anchor="start" fill="#444" stroke="#444" stroke-width="0.35">C1</text>
<line x1="204.20" y1="299.10" x2="211.40" y2="299.10" stroke="#DCA651" stroke-width="0.75" />
<line x1="207.80" y1="296.40" x2="207.80" y2="301.80" stroke="#DCA651" stroke-width="0.7" />
<text x="214.60" y="300.92" font-size="5.2" text-anchor="start" fill="#444" stroke="#444" stroke-width="0.35">C2</text>
<text x="0" y="0" font-size="7.3" fill="#1a1a1a" class="hv" transform="translate(43.70,378.96) scale(1,1.1)">p = 0.01</text>
<line x1="40.00" y1="339.50" x2="88.00" y2="339.50" stroke="#333" stroke-width="1" stroke-dasharray="1.7,2.2"/>
<line x1="76.00" y1="400.20" x2="76.00" y2="339.50" stroke="#333" stroke-width="1" stroke-dasharray="1.7,2.2"/>
<line x1="88.00" y1="400.20" x2="88.00" y2="339.50" stroke="#333" stroke-width="1" stroke-dasharray="1.7,2.2"/>
<polyline points="40.40,278.00 41.80,282.30 44.90,286.70 48.00,291.10 51.20,296.10 53.70,299.90 56.80,304.90 61.80,315.10 65.50,321.10 69.30,327.10 73.10,332.40 76.20,338.60 82.10,347.60 86.50,354.40 88.00,355.30" fill="none" stroke="#DCA651" stroke-width="2.8" stroke-linecap="butt" stroke-linejoin="round"/>
<polyline points="88.00,355.40 99.70,357.30 104.80,358.80 107.00,363.30" fill="none" stroke="#DCA651" stroke-width="1.4" stroke-linecap="butt" stroke-linejoin="round"/>
<polyline points="107.00,363.50 127.60,363.50 127.60,370.30 240.00,370.30 240.00,370.30" fill="none" stroke="#D4A962" stroke-width="1" />
<line x1="88.00" y1="353.50" x2="88.00" y2="358.50" stroke="#D4A962" stroke-width="0.7" />
<line x1="90.20" y1="353.50" x2="90.20" y2="358.50" stroke="#D4A962" stroke-width="0.7" />
<line x1="92.40" y1="353.50" x2="92.40" y2="358.50" stroke="#D4A962" stroke-width="0.7" />
<line x1="95.30" y1="353.50" x2="95.30" y2="358.50" stroke="#D4A962" stroke-width="0.7" />
<line x1="97.50" y1="353.50" x2="97.50" y2="358.50" stroke="#D4A962" stroke-width="0.7" />
<line x1="99.70" y1="353.50" x2="99.70" y2="358.50" stroke="#D4A962" stroke-width="0.7" />
<line x1="108.50" y1="361.00" x2="108.50" y2="366.00" stroke="#D4A962" stroke-width="0.7" />
<line x1="110.00" y1="361.00" x2="110.00" y2="366.00" stroke="#D4A962" stroke-width="0.7" />
<line x1="111.50" y1="361.00" x2="111.50" y2="366.00" stroke="#D4A962" stroke-width="0.7" />
<line x1="113.00" y1="361.00" x2="113.00" y2="366.00" stroke="#D4A962" stroke-width="0.7" />
<line x1="115.80" y1="361.00" x2="115.80" y2="366.00" stroke="#D4A962" stroke-width="0.7" />
<line x1="118.70" y1="361.00" x2="118.70" y2="366.00" stroke="#D4A962" stroke-width="0.7" />
<line x1="121.60" y1="361.00" x2="121.60" y2="366.00" stroke="#D4A962" stroke-width="0.7" />
<line x1="124.50" y1="361.00" x2="124.50" y2="366.00" stroke="#D4A962" stroke-width="0.7" />
<line x1="126.00" y1="361.00" x2="126.00" y2="366.00" stroke="#D4A962" stroke-width="0.7" />
<line x1="130.00" y1="367.80" x2="130.00" y2="372.80" stroke="#D4A962" stroke-width="0.7" />
<line x1="140.80" y1="367.80" x2="140.80" y2="372.80" stroke="#D4A962" stroke-width="0.7" />
<line x1="141.50" y1="367.80" x2="141.50" y2="372.80" stroke="#D4A962" stroke-width="0.7" />
<line x1="148.90" y1="367.80" x2="148.90" y2="372.80" stroke="#D4A962" stroke-width="0.7" />
<line x1="240.00" y1="367.80" x2="240.00" y2="372.80" stroke="#D4A962" stroke-width="0.7" />
<polyline points="40.80,278.60 43.30,279.50 46.80,282.90 50.60,287.30 54.30,292.30 56.80,296.70 60.00,301.50 62.90,304.50 63.30,307.50 66.30,312.00 69.30,318.00 73.10,323.30 76.10,328.20 78.30,328.20 81.30,331.60 82.80,334.60 85.00,336.10 88.00,339.80 90.20,343.40 91.60,345.60" fill="none" stroke="#6B9DD8" stroke-width="2.1" stroke-linecap="butt" stroke-linejoin="round"/>
<line x1="41.90" y1="276.70" x2="41.90" y2="281.30" stroke="#6B9DD8" stroke-width="0.8" />
<line x1="44.10" y1="277.98" x2="44.10" y2="282.58" stroke="#6B9DD8" stroke-width="0.8" />
<line x1="46.30" y1="280.11" x2="46.30" y2="284.71" stroke="#6B9DD8" stroke-width="0.8" />
<line x1="48.50" y1="282.57" x2="48.50" y2="287.17" stroke="#6B9DD8" stroke-width="0.8" />
<line x1="50.70" y1="285.14" x2="50.70" y2="289.74" stroke="#6B9DD8" stroke-width="0.8" />
<line x1="52.90" y1="288.11" x2="52.90" y2="292.71" stroke="#6B9DD8" stroke-width="0.8" />
<line x1="55.10" y1="291.41" x2="55.10" y2="296.01" stroke="#6B9DD8" stroke-width="0.8" />
<line x1="57.30" y1="295.15" x2="57.30" y2="299.75" stroke="#6B9DD8" stroke-width="0.8" />
<line x1="59.50" y1="298.45" x2="59.50" y2="303.05" stroke="#6B9DD8" stroke-width="0.8" />
<line x1="61.70" y1="300.96" x2="61.70" y2="305.56" stroke="#6B9DD8" stroke-width="0.8" />
<line x1="63.90" y1="306.10" x2="63.90" y2="310.70" stroke="#6B9DD8" stroke-width="0.8" />
<line x1="66.10" y1="309.40" x2="66.10" y2="314.00" stroke="#6B9DD8" stroke-width="0.8" />
<line x1="68.30" y1="313.70" x2="68.30" y2="318.30" stroke="#6B9DD8" stroke-width="0.8" />
<line x1="70.50" y1="317.37" x2="70.50" y2="321.97" stroke="#6B9DD8" stroke-width="0.8" />
<line x1="72.70" y1="320.44" x2="72.70" y2="325.04" stroke="#6B9DD8" stroke-width="0.8" />
<line x1="74.90" y1="323.94" x2="74.90" y2="328.54" stroke="#6B9DD8" stroke-width="0.8" />
<line x1="77.10" y1="325.90" x2="77.10" y2="330.50" stroke="#6B9DD8" stroke-width="0.8" />
<line x1="79.30" y1="327.03" x2="79.30" y2="331.63" stroke="#6B9DD8" stroke-width="0.8" />
<line x1="81.50" y1="329.70" x2="81.50" y2="334.30" stroke="#6B9DD8" stroke-width="0.8" />
<line x1="83.70" y1="332.91" x2="83.70" y2="337.51" stroke="#6B9DD8" stroke-width="0.8" />
<line x1="85.90" y1="334.91" x2="85.90" y2="339.51" stroke="#6B9DD8" stroke-width="0.8" />
<line x1="88.10" y1="337.66" x2="88.10" y2="342.26" stroke="#6B9DD8" stroke-width="0.8" />
<line x1="90.30" y1="341.26" x2="90.30" y2="345.86" stroke="#6B9DD8" stroke-width="0.8" />
<polyline points="91.60,345.60 112.90,345.60 112.90,351.50 114.30,351.50 114.30,356.80 132.00,356.80 132.00,360.50 177.80,360.50 177.80,366.20 235.00,366.20 235.00,366.20" fill="none" stroke="#6F97CC" stroke-width="1" />
<line x1="100.40" y1="343.10" x2="100.40" y2="348.10" stroke="#6F97CC" stroke-width="0.7" />
<line x1="101.90" y1="343.10" x2="101.90" y2="348.10" stroke="#6F97CC" stroke-width="0.7" />
<line x1="131.40" y1="354.30" x2="131.40" y2="359.30" stroke="#6F97CC" stroke-width="0.7" />
<line x1="144.20" y1="358.00" x2="144.20" y2="363.00" stroke="#6F97CC" stroke-width="0.7" />
<line x1="171.80" y1="358.00" x2="171.80" y2="363.00" stroke="#6F97CC" stroke-width="0.7" />
<line x1="172.40" y1="358.00" x2="172.40" y2="363.00" stroke="#6F97CC" stroke-width="0.7" />
<line x1="226.30" y1="363.70" x2="226.30" y2="368.70" stroke="#6F97CC" stroke-width="0.7" />
<line x1="235.00" y1="363.70" x2="235.00" y2="368.70" stroke="#6F97CC" stroke-width="0.7" />
<text x="0" y="0" font-size="8.1" fill="#1a1a1a" class="hv" transform="translate(30.10,435.03) scale(1,1.15)">No. at risk</text>
<line x1="29.80" y1="439.50" x2="29.80" y2="461.00" stroke="#444444" stroke-width="1" />
<line x1="29.30" y1="460.50" x2="257.60" y2="460.50" stroke="#444444" stroke-width="1" />
<line x1="28.20" y1="445.50" x2="29.80" y2="445.50" stroke="#444444" stroke-width="0.9" />
<text x="27.20" y="447.70" font-size="6.3" text-anchor="end" fill="#A8C2E6" >C1</text>
<text x="40.00" y="447.74" font-size="6.4" text-anchor="middle" fill="#1a1a1a" class="lt">297</text>
<text x="65.00" y="447.74" font-size="6.4" text-anchor="middle" fill="#1a1a1a" class="lt">88</text>
<text x="90.00" y="447.74" font-size="6.4" text-anchor="middle" fill="#1a1a1a" class="lt">29</text>
<text x="115.00" y="447.74" font-size="6.4" text-anchor="middle" fill="#1a1a1a" class="lt">13</text>
<text x="140.00" y="447.74" font-size="6.4" text-anchor="middle" fill="#1a1a1a" class="lt">11</text>
<text x="165.00" y="447.74" font-size="6.4" text-anchor="middle" fill="#1a1a1a" class="lt">9</text>
<text x="190.00" y="447.74" font-size="6.4" text-anchor="middle" fill="#1a1a1a" class="lt">4</text>
<text x="215.00" y="447.74" font-size="6.4" text-anchor="middle" fill="#1a1a1a" class="lt">4</text>
<text x="240.00" y="447.74" font-size="6.4" text-anchor="middle" fill="#1a1a1a" class="lt">0</text>
<line x1="28.20" y1="455.20" x2="29.80" y2="455.20" stroke="#444444" stroke-width="0.9" />
<text x="27.20" y="457.40" font-size="6.3" text-anchor="end" fill="#E6C993" >C2</text>
<text x="40.00" y="457.44" font-size="6.4" text-anchor="middle" fill="#1a1a1a" class="lt">429</text>
<text x="65.00" y="457.44" font-size="6.4" text-anchor="middle" fill="#1a1a1a" class="lt">163</text>
<text x="90.00" y="457.44" font-size="6.4" text-anchor="middle" fill="#1a1a1a" class="lt">47</text>
<text x="115.00" y="457.44" font-size="6.4" text-anchor="middle" fill="#1a1a1a" class="lt">17</text>
<text x="140.00" y="457.44" font-size="6.4" text-anchor="middle" fill="#1a1a1a" class="lt">6</text>
<text x="165.00" y="457.44" font-size="6.4" text-anchor="middle" fill="#1a1a1a" class="lt">2</text>
<text x="190.00" y="457.44" font-size="6.4" text-anchor="middle" fill="#1a1a1a" class="lt">2</text>
<text x="215.00" y="457.44" font-size="6.4" text-anchor="middle" fill="#1a1a1a" class="lt">2</text>
<text x="240.00" y="457.44" font-size="6.4" text-anchor="middle" fill="#1a1a1a" class="lt">2</text>
<line x1="40.00" y1="460.50" x2="40.00" y2="462.70" stroke="#444444" stroke-width="0.9" />
<text x="40.00" y="468.50" font-size="6.3" text-anchor="middle" fill="#3a3a3a" class="lt">0</text>
<line x1="65.00" y1="460.50" x2="65.00" y2="462.70" stroke="#444444" stroke-width="0.9" />
<text x="65.00" y="468.50" font-size="6.3" text-anchor="middle" fill="#3a3a3a" class="lt">30</text>
<line x1="90.00" y1="460.50" x2="90.00" y2="462.70" stroke="#444444" stroke-width="0.9" />
<text x="90.00" y="468.50" font-size="6.3" text-anchor="middle" fill="#3a3a3a" class="lt">60</text>
<line x1="115.00" y1="460.50" x2="115.00" y2="462.70" stroke="#444444" stroke-width="0.9" />
<text x="115.00" y="468.50" font-size="6.3" text-anchor="middle" fill="#3a3a3a" class="lt">90</text>
<line x1="140.00" y1="460.50" x2="140.00" y2="462.70" stroke="#444444" stroke-width="0.9" />
<text x="140.00" y="468.50" font-size="6.3" text-anchor="middle" fill="#3a3a3a" class="lt">120</text>
<line x1="165.00" y1="460.50" x2="165.00" y2="462.70" stroke="#444444" stroke-width="0.9" />
<text x="165.00" y="468.50" font-size="6.3" text-anchor="middle" fill="#3a3a3a" class="lt">150</text>
<line x1="190.00" y1="460.50" x2="190.00" y2="462.70" stroke="#444444" stroke-width="0.9" />
<text x="190.00" y="468.50" font-size="6.3" text-anchor="middle" fill="#3a3a3a" class="lt">180</text>
<line x1="215.00" y1="460.50" x2="215.00" y2="462.70" stroke="#444444" stroke-width="0.9" />
<text x="215.00" y="468.50" font-size="6.3" text-anchor="middle" fill="#3a3a3a" class="lt">210</text>
<line x1="240.00" y1="460.50" x2="240.00" y2="462.70" stroke="#444444" stroke-width="0.9" />
<text x="240.00" y="468.50" font-size="6.3" text-anchor="middle" fill="#3a3a3a" class="lt">240</text>
<text x="144.30" y="475.66" font-size="7.3" text-anchor="middle" fill="#1a1a1a" class="lt">Time(months)</text>
<text x="261.30" y="256.00" font-size="16" fill="#111" stroke="#111" stroke-width="0.15">D</text>
<text x="291.30" y="270.00" font-size="8.2" fill="#1a1a1a" class="hv">Overall survival in Lung Squamous Cell Carcinoma</text>
<line x1="291.60" y1="273.80" x2="291.60" y2="406.30" stroke="#444444" stroke-width="1" />
<line x1="291.10" y1="405.80" x2="520.00" y2="405.80" stroke="#444444" stroke-width="1" />
<line x1="289.80" y1="399.90" x2="291.60" y2="399.90" stroke="#444444" stroke-width="0.9" />
<text x="289.00" y="402.10" font-size="6.3" text-anchor="end" fill="#3a3a3a" class="lt">0.00</text>
<line x1="289.80" y1="369.85" x2="291.60" y2="369.85" stroke="#444444" stroke-width="0.9" />
<text x="289.00" y="372.05" font-size="6.3" text-anchor="end" fill="#3a3a3a" class="lt">0.25</text>
<line x1="289.80" y1="339.80" x2="291.60" y2="339.80" stroke="#444444" stroke-width="0.9" />
<text x="289.00" y="342.00" font-size="6.3" text-anchor="end" fill="#3a3a3a" class="lt">0.50</text>
<line x1="289.80" y1="309.75" x2="291.60" y2="309.75" stroke="#444444" stroke-width="0.9" />
<text x="289.00" y="311.95" font-size="6.3" text-anchor="end" fill="#3a3a3a" class="lt">0.75</text>
<line x1="289.80" y1="279.70" x2="291.60" y2="279.70" stroke="#444444" stroke-width="0.9" />
<text x="289.00" y="281.90" font-size="6.3" text-anchor="end" fill="#3a3a3a" class="lt">1.00</text>
<line x1="301.50" y1="405.80" x2="301.50" y2="408.00" stroke="#444444" stroke-width="0.9" />
<text x="301.50" y="413.81" font-size="6.3" text-anchor="middle" fill="#3a3a3a" class="lt">0</text>
<line x1="332.75" y1="405.80" x2="332.75" y2="408.00" stroke="#444444" stroke-width="0.9" />
<text x="332.75" y="413.81" font-size="6.3" text-anchor="middle" fill="#3a3a3a" class="lt">30</text>
<line x1="364.00" y1="405.80" x2="364.00" y2="408.00" stroke="#444444" stroke-width="0.9" />
<text x="364.00" y="413.81" font-size="6.3" text-anchor="middle" fill="#3a3a3a" class="lt">60</text>
<line x1="395.25" y1="405.80" x2="395.25" y2="408.00" stroke="#444444" stroke-width="0.9" />
<text x="395.25" y="413.81" font-size="6.3" text-anchor="middle" fill="#3a3a3a" class="lt">90</text>
<line x1="426.50" y1="405.80" x2="426.50" y2="408.00" stroke="#444444" stroke-width="0.9" />
<text x="426.50" y="413.81" font-size="6.3" text-anchor="middle" fill="#3a3a3a" class="lt">120</text>
<line x1="457.75" y1="405.80" x2="457.75" y2="408.00" stroke="#444444" stroke-width="0.9" />
<text x="457.75" y="413.81" font-size="6.3" text-anchor="middle" fill="#3a3a3a" class="lt">150</text>
<line x1="489.00" y1="405.80" x2="489.00" y2="408.00" stroke="#444444" stroke-width="0.9" />
<text x="489.00" y="413.81" font-size="6.3" text-anchor="middle" fill="#3a3a3a" class="lt">180</text>
<text x="406.40" y="421.75" font-size="7.3" text-anchor="middle" fill="#1a1a1a" class="lt">Time(months)</text>
<text x="0" y="0" font-size="7" text-anchor="middle" fill="#1a1a1a" class="lt" transform="translate(273.55,340.40) rotate(-90)">Overall survival</text>
<line x1="465.90" y1="290.30" x2="473.10" y2="290.30" stroke="#DCA651" stroke-width="0.75" />
<line x1="469.50" y1="287.60" x2="469.50" y2="293.00" stroke="#DCA651" stroke-width="0.7" />
<text x="476.30" y="292.12" font-size="5.2" text-anchor="start" fill="#444" stroke="#444" stroke-width="0.35">C1</text>
<line x1="465.90" y1="299.10" x2="473.10" y2="299.10" stroke="#6B9DD8" stroke-width="0.75" />
<line x1="469.50" y1="296.40" x2="469.50" y2="301.80" stroke="#6B9DD8" stroke-width="0.7" />
<text x="476.30" y="300.92" font-size="5.2" text-anchor="start" fill="#444" stroke="#444" stroke-width="0.35">C2</text>
<text x="0" y="0" font-size="7.3" fill="#1a1a1a" class="hv" transform="translate(305.70,378.96) scale(1,1.1)">p = 0.0073</text>
<line x1="301.50" y1="339.30" x2="361.30" y2="339.30" stroke="#333" stroke-width="1" stroke-dasharray="1.7,2.2"/>
<line x1="342.00" y1="400.20" x2="342.00" y2="339.30" stroke="#333" stroke-width="1" stroke-dasharray="1.7,2.2"/>
<line x1="361.30" y1="400.20" x2="361.30" y2="339.30" stroke="#333" stroke-width="1" stroke-dasharray="1.7,2.2"/>
<polyline points="301.80,279.00 305.50,284.30 308.50,288.80 313.10,294.10 316.30,300.00 320.00,304.50 323.00,309.00 326.80,313.60 330.60,317.30 334.30,321.10 338.80,325.40 341.50,329.00 345.30,331.30" fill="none" stroke="#DCA651" stroke-width="3.1" stroke-linecap="butt" stroke-linejoin="round"/>
<line x1="303.00" y1="278.12" x2="303.00" y2="283.32" stroke="#DCA651" stroke-width="0.8" />
<line x1="305.40" y1="281.56" x2="305.40" y2="286.76" stroke="#DCA651" stroke-width="0.8" />
<line x1="307.80" y1="285.15" x2="307.80" y2="290.35" stroke="#DCA651" stroke-width="0.8" />
<line x1="310.20" y1="288.16" x2="310.20" y2="293.36" stroke="#DCA651" stroke-width="0.8" />
<line x1="312.60" y1="290.92" x2="312.60" y2="296.12" stroke="#DCA651" stroke-width="0.8" />
<line x1="315.00" y1="295.00" x2="315.00" y2="300.20" stroke="#DCA651" stroke-width="0.8" />
<line x1="317.40" y1="298.74" x2="317.40" y2="303.94" stroke="#DCA651" stroke-width="0.8" />
<line x1="319.80" y1="301.66" x2="319.80" y2="306.86" stroke="#DCA651" stroke-width="0.8" />
<line x1="322.20" y1="305.20" x2="322.20" y2="310.40" stroke="#DCA651" stroke-width="0.8" />
<line x1="324.60" y1="308.34" x2="324.60" y2="313.54" stroke="#DCA651" stroke-width="0.8" />
<line x1="327.00" y1="311.19" x2="327.00" y2="316.39" stroke="#DCA651" stroke-width="0.8" />
<line x1="329.40" y1="313.53" x2="329.40" y2="318.73" stroke="#DCA651" stroke-width="0.8" />
<line x1="331.80" y1="315.93" x2="331.80" y2="321.13" stroke="#DCA651" stroke-width="0.8" />
<line x1="334.20" y1="318.40" x2="334.20" y2="323.60" stroke="#DCA651" stroke-width="0.8" />
<line x1="336.60" y1="320.70" x2="336.60" y2="325.90" stroke="#DCA651" stroke-width="0.8" />
<line x1="339.00" y1="323.07" x2="339.00" y2="328.27" stroke="#DCA651" stroke-width="0.8" />
<line x1="341.40" y1="326.27" x2="341.40" y2="331.47" stroke="#DCA651" stroke-width="0.8" />
<line x1="343.80" y1="327.79" x2="343.80" y2="332.99" stroke="#DCA651" stroke-width="0.8" />
<polyline points="345.30,331.30 349.10,335.10 352.80,336.20 356.60,336.60 360.40,338.80 364.10,340.50 367.90,342.90 371.50,345.00 375.30,346.20 379.10,348.80 382.10,351.80 386.60,352.90 390.40,354.10 394.10,356.00 398.60,357.60" fill="none" stroke="#DCA651" stroke-width="2.5" stroke-linecap="butt" stroke-linejoin="round"/>
<line x1="346.30" y1="329.80" x2="346.30" y2="334.80" stroke="#DCA651" stroke-width="0.8" />
<line x1="348.30" y1="331.80" x2="348.30" y2="336.80" stroke="#DCA651" stroke-width="0.8" />
<line x1="350.30" y1="332.96" x2="350.30" y2="337.96" stroke="#DCA651" stroke-width="0.8" />
<line x1="352.30" y1="333.55" x2="352.30" y2="338.55" stroke="#DCA651" stroke-width="0.8" />
<line x1="354.30" y1="333.86" x2="354.30" y2="338.86" stroke="#DCA651" stroke-width="0.8" />
<line x1="356.30" y1="334.07" x2="356.30" y2="339.07" stroke="#DCA651" stroke-width="0.8" />
<line x1="358.30" y1="335.08" x2="358.30" y2="340.08" stroke="#DCA651" stroke-width="0.8" />
<line x1="360.30" y1="336.24" x2="360.30" y2="341.24" stroke="#DCA651" stroke-width="0.8" />
<line x1="362.30" y1="337.17" x2="362.30" y2="342.17" stroke="#DCA651" stroke-width="0.8" />
<line x1="364.30" y1="338.13" x2="364.30" y2="343.13" stroke="#DCA651" stroke-width="0.8" />
<line x1="366.30" y1="339.39" x2="366.30" y2="344.39" stroke="#DCA651" stroke-width="0.8" />
<line x1="368.30" y1="340.63" x2="368.30" y2="345.63" stroke="#DCA651" stroke-width="0.8" />
<line x1="370.30" y1="341.80" x2="370.30" y2="346.80" stroke="#DCA651" stroke-width="0.8" />
<line x1="372.30" y1="342.75" x2="372.30" y2="347.75" stroke="#DCA651" stroke-width="0.8" />
<line x1="374.30" y1="343.38" x2="374.30" y2="348.38" stroke="#DCA651" stroke-width="0.8" />
<line x1="376.30" y1="344.38" x2="376.30" y2="349.38" stroke="#DCA651" stroke-width="0.8" />
<line x1="378.30" y1="345.75" x2="378.30" y2="350.75" stroke="#DCA651" stroke-width="0.8" />
<line x1="380.30" y1="347.50" x2="380.30" y2="352.50" stroke="#DCA651" stroke-width="0.8" />
<line x1="382.30" y1="349.35" x2="382.30" y2="354.35" stroke="#DCA651" stroke-width="0.8" />
<line x1="384.30" y1="349.84" x2="384.30" y2="354.84" stroke="#DCA651" stroke-width="0.8" />
<line x1="386.30" y1="350.33" x2="386.30" y2="355.33" stroke="#DCA651" stroke-width="0.8" />
<line x1="388.30" y1="350.94" x2="388.30" y2="355.94" stroke="#DCA651" stroke-width="0.8" />
<line x1="390.30" y1="351.57" x2="390.30" y2="356.57" stroke="#DCA651" stroke-width="0.8" />
<line x1="392.30" y1="352.58" x2="392.30" y2="357.58" stroke="#DCA651" stroke-width="0.8" />
<line x1="394.30" y1="353.57" x2="394.30" y2="358.57" stroke="#DCA651" stroke-width="0.8" />
<line x1="396.30" y1="354.28" x2="396.30" y2="359.28" stroke="#DCA651" stroke-width="0.8" />
<line x1="398.30" y1="354.99" x2="398.30" y2="359.99" stroke="#DCA651" stroke-width="0.8" />
<polyline points="398.60,357.60 403.40,358.30 405.20,361.50 408.90,362.00 410.80,363.90 412.60,365.20 418.20,367.10 419.10,369.40 425.50,369.40 426.90,372.20 436.60,372.20 438.00,376.30" fill="none" stroke="#DCA651" stroke-width="1.3" stroke-linecap="butt" stroke-linejoin="round"/>
<polyline points="438.00,376.30 460.00,376.30 460.00,382.50 485.00,382.50 485.00,382.50 485.00,382.50 485.00,400.20" fill="none" stroke="#D4A962" stroke-width="1" />
<line x1="399.20" y1="355.40" x2="399.20" y2="360.40" stroke="#D4A962" stroke-width="0.7" />
<line x1="409.90" y1="359.50" x2="409.90" y2="364.50" stroke="#D4A962" stroke-width="0.7" />
<line x1="419.10" y1="366.90" x2="419.10" y2="371.90" stroke="#D4A962" stroke-width="0.7" />
<line x1="425.50" y1="366.90" x2="425.50" y2="371.90" stroke="#D4A962" stroke-width="0.7" />
<line x1="430.60" y1="369.70" x2="430.60" y2="374.70" stroke="#D4A962" stroke-width="0.7" />
<line x1="434.80" y1="369.70" x2="434.80" y2="374.70" stroke="#D4A962" stroke-width="0.7" />
<line x1="442.20" y1="373.80" x2="442.20" y2="378.80" stroke="#D4A962" stroke-width="0.7" />
<line x1="445.00" y1="373.80" x2="445.00" y2="378.80" stroke="#D4A962" stroke-width="0.7" />
<line x1="452.00" y1="373.80" x2="452.00" y2="378.80" stroke="#D4A962" stroke-width="0.7" />
<line x1="458.00" y1="373.80" x2="458.00" y2="378.80" stroke="#D4A962" stroke-width="0.7" />
<line x1="463.70" y1="380.00" x2="463.70" y2="385.00" stroke="#D4A962" stroke-width="0.7" />
<line x1="465.00" y1="380.00" x2="465.00" y2="385.00" stroke="#D4A962" stroke-width="0.7" />
<line x1="466.30" y1="380.00" x2="466.30" y2="385.00" stroke="#D4A962" stroke-width="0.7" />
<polyline points="301.80,279.00 303.30,285.00 306.30,291.10 309.30,295.60 312.30,300.80 314.60,306.10 315.50,309.80 317.80,316.60 321.50,319.60 325.30,321.80 329.10,324.10 332.80,327.90 336.60,331.60 340.00,336.60 342.30,340.00 344.50,340.70" fill="none" stroke="#6B9DD8" stroke-width="2.0" stroke-linecap="butt" stroke-linejoin="round"/>
<line x1="303.05" y1="281.60" x2="303.05" y2="286.40" stroke="#6B9DD8" stroke-width="0.8" />
<line x1="305.55" y1="287.18" x2="305.55" y2="291.98" stroke="#6B9DD8" stroke-width="0.8" />
<line x1="308.05" y1="291.33" x2="308.05" y2="296.12" stroke="#6B9DD8" stroke-width="0.8" />
<line x1="310.55" y1="295.37" x2="310.55" y2="300.17" stroke="#6B9DD8" stroke-width="0.8" />
<line x1="313.05" y1="300.13" x2="313.05" y2="304.93" stroke="#6B9DD8" stroke-width="0.8" />
<line x1="315.55" y1="307.55" x2="315.55" y2="312.35" stroke="#6B9DD8" stroke-width="0.8" />
<line x1="318.05" y1="314.40" x2="318.05" y2="319.20" stroke="#6B9DD8" stroke-width="0.8" />
<line x1="320.55" y1="316.43" x2="320.55" y2="321.23" stroke="#6B9DD8" stroke-width="0.8" />
<line x1="323.05" y1="318.10" x2="323.05" y2="322.90" stroke="#6B9DD8" stroke-width="0.8" />
<line x1="325.55" y1="319.55" x2="325.55" y2="324.35" stroke="#6B9DD8" stroke-width="0.8" />
<line x1="328.05" y1="321.06" x2="328.05" y2="325.86" stroke="#6B9DD8" stroke-width="0.8" />
<line x1="330.55" y1="323.19" x2="330.55" y2="327.99" stroke="#6B9DD8" stroke-width="0.8" />
<line x1="333.05" y1="325.74" x2="333.05" y2="330.54" stroke="#6B9DD8" stroke-width="0.8" />
<line x1="335.55" y1="328.18" x2="335.55" y2="332.98" stroke="#6B9DD8" stroke-width="0.8" />
<line x1="338.05" y1="331.33" x2="338.05" y2="336.13" stroke="#6B9DD8" stroke-width="0.8" />
<line x1="340.55" y1="335.01" x2="340.55" y2="339.81" stroke="#6B9DD8" stroke-width="0.8" />
<line x1="343.05" y1="337.84" x2="343.05" y2="342.64" stroke="#6B9DD8" stroke-width="0.8" />
<polyline points="344.50,340.70 352.10,340.70 353.60,344.10 356.60,345.20 359.60,347.10 361.90,348.60 364.10,350.10 366.40,352.40 368.60,354.80 370.00,358.60 370.80,362.00 375.30,362.00 376.80,366.90 383.60,366.90 384.70,370.60 393.40,370.60 393.40,375.70" fill="none" stroke="#6B9DD8" stroke-width="1.2" stroke-linecap="butt" stroke-linejoin="round"/>
<polyline points="393.40,375.70 434.30,375.70 434.30,383.70 441.70,383.70 441.70,383.70" fill="none" stroke="#6F97CC" stroke-width="1" />
<line x1="346.00" y1="338.20" x2="346.00" y2="343.20" stroke="#6F97CC" stroke-width="0.7" />
<line x1="348.00" y1="338.20" x2="348.00" y2="343.20" stroke="#6F97CC" stroke-width="0.7" />
<line x1="350.00" y1="338.20" x2="350.00" y2="343.20" stroke="#6F97CC" stroke-width="0.7" />
<line x1="352.00" y1="338.20" x2="352.00" y2="343.20" stroke="#6F97CC" stroke-width="0.7" />
<line x1="356.00" y1="343.00" x2="356.00" y2="348.00" stroke="#6F97CC" stroke-width="0.7" />
<line x1="358.50" y1="343.00" x2="358.50" y2="348.00" stroke="#6F97CC" stroke-width="0.7" />
<line x1="364.00" y1="349.00" x2="364.00" y2="354.00" stroke="#6F97CC" stroke-width="0.7" />
<line x1="367.00" y1="349.00" x2="367.00" y2="354.00" stroke="#6F97CC" stroke-width="0.7" />
<line x1="372.00" y1="359.50" x2="372.00" y2="364.50" stroke="#6F97CC" stroke-width="0.7" />
<line x1="374.00" y1="359.50" x2="374.00" y2="364.50" stroke="#6F97CC" stroke-width="0.7" />
<line x1="379.00" y1="364.40" x2="379.00" y2="369.40" stroke="#6F97CC" stroke-width="0.7" />
<line x1="381.50" y1="364.40" x2="381.50" y2="369.40" stroke="#6F97CC" stroke-width="0.7" />
<line x1="387.00" y1="368.10" x2="387.00" y2="373.10" stroke="#6F97CC" stroke-width="0.7" />
<line x1="389.50" y1="368.10" x2="389.50" y2="373.10" stroke="#6F97CC" stroke-width="0.7" />
<line x1="399.20" y1="373.20" x2="399.20" y2="378.20" stroke="#6F97CC" stroke-width="0.7" />
<line x1="427.90" y1="373.20" x2="427.90" y2="378.20" stroke="#6F97CC" stroke-width="0.7" />
<line x1="431.10" y1="373.20" x2="431.10" y2="378.20" stroke="#6F97CC" stroke-width="0.7" />
<line x1="441.70" y1="381.20" x2="441.70" y2="386.20" stroke="#6F97CC" stroke-width="0.7" />
<text x="0" y="0" font-size="8.1" fill="#1a1a1a" class="hv" transform="translate(291.90,435.03) scale(1,1.15)">No. at risk</text>
<line x1="291.60" y1="439.50" x2="291.60" y2="461.00" stroke="#444444" stroke-width="1" />
<line x1="291.10" y1="460.50" x2="520.00" y2="460.50" stroke="#444444" stroke-width="1" />
<line x1="290.00" y1="445.50" x2="291.60" y2="445.50" stroke="#444444" stroke-width="0.9" />
<text x="289.00" y="447.70" font-size="6.3" text-anchor="end" fill="#E6C993" >C1</text>
<text x="301.50" y="447.74" font-size="6.4" text-anchor="middle" fill="#1a1a1a" class="lt">489</text>
<text x="332.75" y="447.74" font-size="6.4" text-anchor="middle" fill="#1a1a1a" class="lt">210</text>
<text x="364.00" y="447.74" font-size="6.4" text-anchor="middle" fill="#1a1a1a" class="lt">104</text>
<text x="395.25" y="447.74" font-size="6.4" text-anchor="middle" fill="#1a1a1a" class="lt">47</text>
<text x="426.50" y="447.74" font-size="6.4" text-anchor="middle" fill="#1a1a1a" class="lt">21</text>
<text x="457.75" y="447.74" font-size="6.4" text-anchor="middle" fill="#1a1a1a" class="lt">8</text>
<text x="489.00" y="447.74" font-size="6.4" text-anchor="middle" fill="#1a1a1a" class="lt">0</text>
<line x1="290.00" y1="455.20" x2="291.60" y2="455.20" stroke="#444444" stroke-width="0.9" />
<text x="289.00" y="457.40" font-size="6.3" text-anchor="end" fill="#A8C2E6" >C2</text>
<text x="301.50" y="457.44" font-size="6.4" text-anchor="middle" fill="#1a1a1a" class="lt">263</text>
<text x="332.75" y="457.44" font-size="6.4" text-anchor="middle" fill="#1a1a1a" class="lt">94</text>
<text x="364.00" y="457.44" font-size="6.4" text-anchor="middle" fill="#1a1a1a" class="lt">36</text>
<text x="395.25" y="457.44" font-size="6.4" text-anchor="middle" fill="#1a1a1a" class="lt">10</text>
<text x="426.50" y="457.44" font-size="6.4" text-anchor="middle" fill="#1a1a1a" class="lt">8</text>
<text x="457.75" y="457.44" font-size="6.4" text-anchor="middle" fill="#1a1a1a" class="lt">0</text>
<text x="489.00" y="457.44" font-size="6.4" text-anchor="middle" fill="#1a1a1a" class="lt">0</text>
<line x1="301.50" y1="460.50" x2="301.50" y2="462.70" stroke="#444444" stroke-width="0.9" />
<text x="301.50" y="468.50" font-size="6.3" text-anchor="middle" fill="#3a3a3a" class="lt">0</text>
<line x1="332.75" y1="460.50" x2="332.75" y2="462.70" stroke="#444444" stroke-width="0.9" />
<text x="332.75" y="468.50" font-size="6.3" text-anchor="middle" fill="#3a3a3a" class="lt">30</text>
<line x1="364.00" y1="460.50" x2="364.00" y2="462.70" stroke="#444444" stroke-width="0.9" />
<text x="364.00" y="468.50" font-size="6.3" text-anchor="middle" fill="#3a3a3a" class="lt">60</text>
<line x1="395.25" y1="460.50" x2="395.25" y2="462.70" stroke="#444444" stroke-width="0.9" />
<text x="395.25" y="468.50" font-size="6.3" text-anchor="middle" fill="#3a3a3a" class="lt">90</text>
<line x1="426.50" y1="460.50" x2="426.50" y2="462.70" stroke="#444444" stroke-width="0.9" />
<text x="426.50" y="468.50" font-size="6.3" text-anchor="middle" fill="#3a3a3a" class="lt">120</text>
<line x1="457.75" y1="460.50" x2="457.75" y2="462.70" stroke="#444444" stroke-width="0.9" />
<text x="457.75" y="468.50" font-size="6.3" text-anchor="middle" fill="#3a3a3a" class="lt">150</text>
<line x1="489.00" y1="460.50" x2="489.00" y2="462.70" stroke="#444444" stroke-width="0.9" />
<text x="489.00" y="468.50" font-size="6.3" text-anchor="middle" fill="#3a3a3a" class="lt">180</text>
<text x="406.40" y="475.66" font-size="7.3" text-anchor="middle" fill="#1a1a1a" class="lt">Time(months)</text>
</svg></body></html>
